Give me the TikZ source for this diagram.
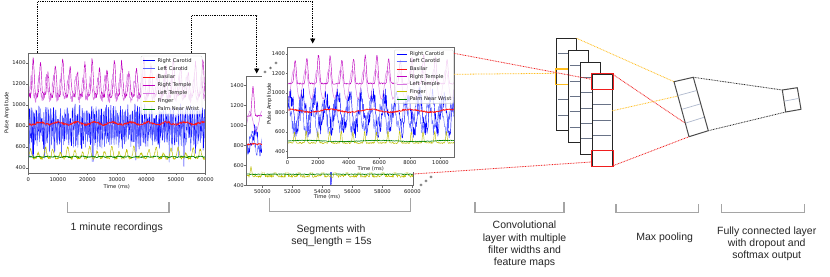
\documentclass[tikz,border=0pt]{standalone}
\usepackage{fontspec}
\setmainfont{Liberation Sans}
\newfontfamily\plotfont{DejaVu Sans}
\usetikzlibrary{arrows.meta,calc}
\definecolor{cRC}{RGB}{0,0,255}
\definecolor{cLC}{RGB}{90,100,255}
\definecolor{cBa}{RGB}{255,20,20}
\definecolor{cRT}{RGB}{190,0,190}
\definecolor{cLT}{RGB}{215,120,225}
\definecolor{cFi}{RGB}{190,190,0}
\definecolor{cPa}{RGB}{0,130,0}
\definecolor{spine}{RGB}{105,105,105}
\definecolor{brk}{RGB}{165,165,165}
\definecolor{orng}{RGB}{255,190,30}
\definecolor{redd}{RGB}{240,30,30}
\definecolor{divc}{RGB}{105,115,135}
\definecolor{pdiv}{RGB}{175,185,205}
\newcommand\trc[5]{\draw[trace,#1] plot[domain=#2:#3,samples=#4,variable=\t] (\t,{#5});}
\begin{document}
\begin{tikzpicture}[x=1pt,y=-1pt,
  trace/.style={line width=0.45pt, line join=round},
  spinebox/.style={draw=spine, line width=0.7pt},
  tickmark/.style={draw=spine, line width=0.5pt},
  ticklab/.style={font={\plotfont\fontsize{5.2}{6}\selectfont}, inner sep=0pt, text=black!90, text height=3.8pt, text depth=1pt},
  legtext/.style={ticklab, anchor=west},
  legbox/.style={draw=black!18, fill=white, fill opacity=0.8, rounded corners=1pt, line width=0.4pt, inner sep=0pt, outer sep=0pt, anchor=north west},
  bracketline/.style={draw=brk, line width=1.3pt},
  caption/.style={font={\fontsize{10.5}{12.5}\selectfont}, inner sep=0pt, anchor=base, text=black!85},
  dotarrow/.style={draw=black, line width=0.9pt, dash pattern=on 0.9pt off 0.9pt},
  reddot/.style={draw=redd, line width=0.8pt, dash pattern=on 0.8pt off 0.8pt},
  orangedot/.style={draw=orng, line width=0.8pt, dash pattern=on 0.8pt off 0.8pt},
  blackdot/.style={draw=black!85, line width=0.8pt, dash pattern=on 0.8pt off 0.8pt},
  fmap/.style={draw=black!85, fill=white, line width=0.9pt, minimum width=20pt, minimum height=92pt, inner sep=0pt, outer sep=0pt, anchor=north west},
  cellline/.style={draw=divc, line width=0.7pt},
  polybox/.style={draw=black!70, fill=white, line width=1pt, line join=round},
  polydiv/.style={draw=pdiv, line width=0.7pt},
  starlab/.style={font={\plotfont\fontsize{6}{6}\selectfont}, inner sep=0pt},
  declare function={
    pa(\v)=168-(\v-400)*0.105;
    pb(\v)=185.7-(\v-400)*0.1;
    pc(\v)=151.7-(\v-400)*0.0975;
    ang(\x)=100*mod(1.5*\x,3.6);
    pwt(\x)=\x*\x*\x;
    pwf(\x)=\x*\x*\x*\x*\x;
    pwe(\x)=(\x*\x)*(\x*\x)*(\x*\x)*(\x*\x);
  }
]
\pgfmathsetseed{7}
\useasboundingbox (0,0) rectangle (830,276);
\fill[white] (0,0) rectangle (830,276);

% ================= Plot 1 : 1 minute recordings
\begin{scope}
\clip (28.3,53.3) rectangle (205.3,173.3);
\trc{cRC}{28.5}{205.2}{600}{pa(810+110*sin(ang(\t))+100*rand-230*(rnd>0.94))}
\trc{cLC}{28.5}{205.2}{600}{pa(780+110*sin(ang(\t)+90)+100*rand-150*(rnd>0.96))}
\trc{cBa,line width=0.7pt}{28.5}{205.2}{400}{pa(825+10*rand+12*sin(20*\t))}
\trc{cRT}{28.5}{205.2}{700}{pa(1090+350*pwf(abs(sin(24.4*\t)))*(0.8+0.2*sin(13*\t))+25*rand)}
\trc{cLT}{28.5}{205.2}{700}{pa(1060+200*pwt(abs(sin(24.4*\t+40)))+40*rand)}
\trc{cFi}{28.5}{205.2}{600}{pa(495+110*pwf(abs(sin(24.4*\t+60)))*(0.7+0.3*sin(17*\t))+15*rand)}
\trc{cPa,line width=0.6pt}{28.5}{205.2}{400}{pa(507+5*rand+4*sin(40*\t))}
\end{scope}
\draw[spinebox] (28.3,53.3) rectangle (205.3,173.3);
\foreach \k/\lab in {0/0,10/10000,20/20000,30/30000,40/40000,50/50000,60/60000}{
  \draw[tickmark] (28.3+\k*2.95,173.3) -- ++(0,2);
  \node[ticklab] (ax\k) at (28.3+\k*2.95,180) {\lab};
}
\foreach \v in {400,600,800,1000,1200,1400}{
  \draw[tickmark] (28.3,{168-(\v-400)*0.105}) -- ++(-2,0);
  \node[ticklab,anchor=east] (ay\v) at (25.8,{168-(\v-400)*0.105}) {\v};
}
\node[ticklab] (axlab) at (116.8,187.5) {Time (ms)};
\node[ticklab,rotate=90] (aylab) at (7,113) {Pulse Amplitude};
\node[legbox, minimum width=61pt, minimum height=58pt] (leg1) at (141,56) {};
\foreach \c/\n [count=\i from 0] in {cRC/Right Carotid,cLC/Left Carotid,cBa/Basilar,cRT/Right Temple,cLT/Left Temple,cFi/Finger,cPa/Palm Near Wrist}{
  \draw[\c, line width=0.8pt] (142.7,60.7+8.1*\i) -- (154.5,60.7+8.1*\i);
  \node[legtext] (la\i) at (157.3,60.7+8.1*\i) {\n};
}

% ================= Plot 2 back : segment axes
\begin{scope}
\clip (246,76.7) rectangle (413.3,185.7);
\trc{cRC}{246.5}{413}{334}{pb(850+100*sin(30*\t)+70*rand-380*(abs(\t-331)<0.6)-300*(abs(\t-389)<0.6))}
\trc{cLC}{246.5}{413}{334}{pb(820+80*sin(30*\t+90)+60*rand)}
\trc{cBa,line width=0.7pt}{246.5}{413}{334}{pb(815+10*rand)}
\trc{cRT}{246.5}{413}{334}{pb(1100+290*pwt(max(0,sin(30*\t+60)))+10*rand)}
\trc{cLT}{246.5}{413}{334}{pb(1040+100*sin(30*\t+150)+10*rand)}
\trc{cFi}{246.5}{413}{334}{pb(495+100*pwe(max(0,sin(30*\t+120)))+12*rand)}
\trc{cPa,line width=0.6pt}{246.5}{413}{334}{pb(515+4*rand)}
\end{scope}
\draw[spinebox] (246,76.7) rectangle (413.3,185.7);
\foreach \k/\lab in {0/50000,1/52000,2/54000,3/56000,4/58000,5/60000}{
  \draw[tickmark] (262.4+30*\k,185.7) -- ++(0,2);
  \node[ticklab] (bx\k) at (262.4+30*\k,191.9) {\lab};
}
\foreach \v in {400,600,800,1000,1200,1400}{
  \draw[tickmark] (246,{185.7-(\v-400)*0.1}) -- ++(-2,0);
  \node[ticklab,anchor=east] (by\v) at (243.8,{185.7-(\v-400)*0.1}) {\v};
}
\node[ticklab] (bxlab) at (327,197.5) {Time (ms)};

% ================= Plot 2 front : one segment
\fill[white] (262,40) rectangle (458,171.5);
\begin{scope}
\clip (287.5,47.3) rectangle (454,157.3);
\trc{cRC}{287.8}{454}{340}{pc(800+170*sin(30.8*\t+120)+110*rand)}
\trc{cLC}{287.8}{454}{340}{pc(760+130*sin(30.8*\t+200)+90*rand)}
\trc{cBa,line width=0.7pt}{287.8}{454}{340}{pc(820+14*sin(9*\t)+8*rand)}
\trc{cRT}{287.8}{454}{340}{pc(1100+300*pwt(max(0,sin(30.8*\t)))*(0.9+0.1*sin(7*\t))+8*rand)}
\trc{cLT}{287.8}{454}{340}{pc(1090+150*sin(30.8*\t+40)+8*rand)}
\trc{cFi}{287.8}{454}{340}{pc(490+120*pwe(max(0,sin(30.8*\t+20)))+8*rand)}
\trc{cPa,line width=0.6pt}{287.8}{454}{340}{pc(510+6*sin(5*\t)+4*rand)}
\end{scope}
\draw[spinebox] (287.5,47.3) rectangle (454,157.3);
\foreach \k/\lab in {0/0,1/2000,2/4000,3/6000,4/8000,5/10000}{
  \draw[tickmark] (287.5+30.6*\k,157.3) -- ++(0,2);
  \node[ticklab] (cx\k) at (287.5+30.6*\k,162.9) {\lab};
}
\foreach \v in {400,600,800,1000,1200,1400}{
  \draw[tickmark] (287.5,{151.7-(\v-400)*0.0975}) -- ++(-2,0);
  \node[ticklab,anchor=east] (cy\v) at (285.2,{151.7-(\v-400)*0.0975}) {\v};
}
\node[ticklab] (cxlab) at (370.7,168.9) {Time (ms)};
\node[ticklab,rotate=90] (cylab) at (269.5,104) {Pulse Amplitude};
\node[legbox, minimum width=59pt, minimum height=53.3pt] (leg2) at (394.3,50) {};
\foreach \c/\n [count=\i from 0] in {cRC/Right Carotid,cLC/Left Carotid,cBa/Basilar,cRT/Right Temple,cLT/Left Temple,cFi/Finger,cPa/Palm Near Wrist}{
  \draw[\c, line width=0.8pt] (396.5,54+7.55*\i) -- (407.3,54+7.55*\i);
  \node[legtext] (lc\i) at (409.6,54+7.55*\i) {\n};
}

% ================= dotted arrows from recording to segments
\coordinate (a1s) at (191.7,53.3);
\coordinate (a1e) at (256.7,73.5);
\coordinate (a2s) at (37.7,53.3);
\coordinate (a2e) at (312.7,43.5);
\draw[dotarrow,-{Triangle[length=5pt,width=5pt]}] (a1s) |- (256.7,15.7) -- (a1e);
\draw[dotarrow,-{Triangle[length=5pt,width=5pt]}] (a2s) |- (312.7,1.5) -- (a2e);

% stars
\node[starlab] (st1) at (265,73) {*};
\node[starlab] (st2) at (270.7,69.5) {*};
\node[starlab] (st3) at (276,64.5) {*};
\node[starlab] (st4) at (421,186.5) {*};
\node[starlab] (st5) at (426,182) {*};
\node[starlab] (st6) at (431,178.5) {*};

% ================= feature maps
\node[fmap] (m0) at (556.7,38.3) {};
\foreach \k in {1,...,5}
  \draw[cellline] ([xshift=1pt,yshift={-\k*15.33pt}]m0.north west) -- ([xshift=-1pt,yshift={-\k*15.33pt}]m0.north east);
\draw[orng, line width=1.3pt] ([xshift=-1pt,yshift={-2*15.33pt}]m0.north west) rectangle ([xshift=1pt,yshift={-3*15.33pt}]m0.north east);
\foreach \i in {1,2,3}{
  \node[fmap] (m\i) at (556.7+11.87*\i,38.3+11.9*\i) {};
  \foreach \k in {1,...,5}
    \draw[cellline] ([xshift=1pt,yshift={-\k*15.33pt}]m\i.north west) -- ([xshift=-1pt,yshift={-\k*15.33pt}]m\i.north east);
}
\draw[redd, line width=1.3pt] ([xshift=-1pt,yshift=0.5pt]m3.north west) rectangle ([xshift=1pt,yshift=-15.33pt]m3.north east);
\draw[redd, line width=1.3pt] ([xshift=-1pt,yshift={-5*15.33pt}]m3.north west) rectangle ([xshift=1pt,yshift=-0.5pt]m3.south east);

% connections segment -> maps
\draw[reddot] (454,53.3) -- (591.5,79.3);
\draw[orangedot] (454,74.3) -- (555.7,73.3);
\draw[reddot] (413.3,174) -- (591,162);

% ================= max pooling and fully connected
\coordinate (pTL) at (674,81.7);
\coordinate (pTR) at (693.3,77.3);
\coordinate (pBR) at (708.3,130.7);
\coordinate (pBL) at (689,136.7);
\coordinate (fTL) at (782.3,90);
\coordinate (fTR) at (797.3,87.7);
\coordinate (fBR) at (801,109.3);
\coordinate (fBL) at (785.7,112);

\draw[orangedot] (m0.north east) -- (pTL);
\draw[reddot] (m3.north east) -- ($(pTL)!0.755!(pBL)$);
\draw[orangedot] ($(m3.north east)!0.4!(m3.south east)$) -- ($(pTL)!0.26!(pBL)$);
\draw[reddot] (m3.south east) -- (pBL);
\draw[blackdot] (pTR) -- (fTL);
\draw[blackdot] (pBR) -- (fBL);

\draw[polybox] (pTL) -- (pTR) -- (pBR) -- (pBL) -- cycle;
\foreach \f in {0.25,0.5,0.75}
  \draw[polydiv] ($(pTL)!\f!(pBL)+(0.8,0)$) -- ($(pTR)!\f!(pBR)-(0.8,0)$);
\draw[polybox] (fTL) -- (fTR) -- (fBR) -- (fBL) -- cycle;
\draw[polydiv] ($(fTL)!0.5!(fBL)+(0.8,0)$) -- ($(fTR)!0.5!(fBR)-(0.8,0)$);

% ================= brackets and captions
\draw[bracketline] (67.3,202.3) -- (67.3,212.3) -- (169,212.3) -- (169,202.3);
\draw[bracketline] (269.3,198.3) -- (269.3,211.7) -- (410.7,211.7) -- (410.7,198.3);
\draw[bracketline] (475,202.3) -- (475,212.3) -- (564,212.3) -- (564,202.3);
\draw[bracketline] (616,204.3) -- (616,212.7) -- (698.3,212.7) -- (698.3,204.3);
\draw[bracketline] (721.7,204.3) -- (721.7,212.7) -- (804.3,212.7) -- (804.3,204.3);

\node[caption] (cap1) at (116.7,230) {1 minute recordings};
\node[caption] (cap2a) at (331,232.3) {Segments with};
\node[caption] (cap2b) at (331.5,244) {seq\_length = 15s};
\node[caption] (cap3a) at (524.5,228.3) {Convolutional};
\node[caption] (cap3b) at (524.5,241) {layer with multiple};
\node[caption] (cap3c) at (524.5,253.3) {filter widths and};
\node[caption] (cap3d) at (524.5,265.8) {feature maps};
\node[caption] (cap4) at (664.7,240) {Max pooling};
\node[caption] (cap5a) at (766.7,234) {Fully connected layer};
\node[caption] (cap5b) at (766.7,246) {with dropout and};
\node[caption] (cap5c) at (766.7,258.3) {softmax output};
\end{tikzpicture}
\end{document}
